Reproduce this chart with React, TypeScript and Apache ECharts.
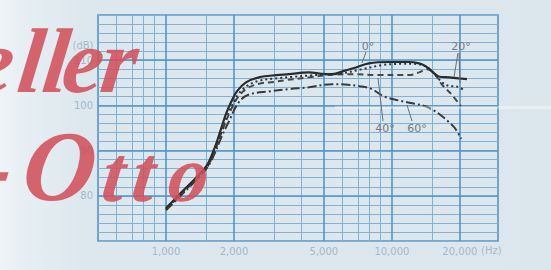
import React, { useEffect, useRef } from 'react';
import * as echarts from 'echarts';

// ---- axis ranges / ticks ----
const X_MIN_HZ = 500;
const X_MAX_HZ = 29500;
const Y_MIN = 70;
const Y_MAX = 120;

const xTickValues = [1000, 2000, 5000, 10000, 20000];
const xTickLabels = ['1,000', '2,000', '5,000', '10,000', '20,000'];
const xGridMajor = [1000, 2000, 5000, 10000, 20000];
const xGridMinor = [600, 700, 800, 900, 1500, 3000, 4000, 6000, 7000, 8000, 9000, 15000];
const yLabelValues = [80, 90, 100, 110];
const yGridMajor = [80, 90, 100, 110];

// ---- series (frequency in Hz, level in dB) ----
const freq0 = [1000, 1140, 1500, 1630, 1750, 1840, 1940, 2060, 2260, 2580, 3070, 3500, 4290, 4900, 5430, 6200, 6930, 7910, 9700, 11900, 13200, 14100, 15000, 16100, 17900, 21500];
const db0 = [77.3, 80.2, 86.4, 90.2, 94.7, 98.0, 100.7, 103.1, 105.1, 106.2, 106.7, 106.9, 107.3, 107.0, 106.9, 107.7, 108.4, 109.3, 109.6, 109.6, 109.3, 108.7, 107.6, 106.4, 106.2, 105.8];

const freq20 = [1000, 1140, 1500, 1640, 1760, 1860, 1960, 2100, 2300, 2600, 3100, 3600, 4300, 5000, 5830, 7400, 9000, 11000, 12500, 14000, 15000, 16600, 17900, 19300, 21000];
const db20 = [77.0, 80.0, 86.0, 89.8, 94.2, 97.5, 100.0, 102.6, 104.4, 105.5, 106.0, 106.3, 106.6, 106.8, 107.0, 108.0, 108.9, 109.2, 109.2, 108.7, 107.6, 105.2, 104.3, 104.2, 103.3];

const freq40 = [1000, 1140, 1500, 1640, 1760, 1860, 1960, 2060, 2260, 2580, 3000, 3400, 4290, 5430, 6930, 8500, 11900, 13200, 14300, 15300, 16600, 18400, 20200];
const db40 = [77.0, 79.9, 86.1, 89.8, 94.0, 97.0, 99.5, 101.5, 103.6, 104.8, 105.2, 105.6, 106.2, 106.8, 106.9, 106.7, 106.7, 107.3, 108.0, 107.3, 104.7, 102.4, 99.8];

const freq60 = [1000, 1140, 1500, 1640, 1760, 1900, 2100, 2330, 2860, 3500, 4290, 5430, 6200, 7300, 8160, 9200, 10500, 12500, 14100, 15300, 16100, 17900, 19000, 20300];
const db60 = [76.8, 79.6, 85.8, 89.3, 93.0, 96.5, 100.7, 102.4, 103.1, 103.6, 104.0, 104.7, 104.6, 104.2, 103.6, 102.0, 101.2, 100.4, 99.8, 98.9, 98.2, 96.3, 95.0, 92.6];

const seriesNames = ['0°', '20°', '40°', '60°'];

const lg = (f: number) => Math.log10(f);
const pts = (fs: number[], ds: number[]) => fs.map((f, i) => [lg(f), ds[i]]);

const GRID_MINOR = '#80b2d9';
const GRID_MAJOR = '#5295ca';
const LABEL = '#a2b8c9';
const INK = '#2b2b2b';
const RED = '#d2505a';

export default function App() {
  const ref = useRef<HTMLDivElement>(null);

  useEffect(() => {
    if (!ref.current) return;
    const chart = echarts.init(ref.current, null, { renderer: 'svg' });

    const vMinor = xGridMinor.map((f) => ({ xAxis: lg(f), lineStyle: { color: GRID_MINOR, width: 1, type: 'solid' } }));
    const vMajor = xGridMajor.map((f) => ({ xAxis: lg(f), lineStyle: { color: GRID_MAJOR, width: 1.6, type: 'solid' } }));
    const hMajor = yGridMajor.map((d) => ({ yAxis: d, lineStyle: { color: GRID_MAJOR, width: 1.6, type: 'solid' } }));

    const wm = (text: string, x: number, baseline: number, size: number) => ({
      type: 'text',
      z: 100,
      silent: true,
      x,
      y: baseline,
      skewX: -0.12,
      originX: 0,
      originY: 0,
      style: {
        text,
        x: 0,
        y: -size * 0.34,
        font: `italic bold ${size}px "Liberation Serif"`,
        fill: RED,
        opacity: 0.88,
        align: 'center',
        verticalAlign: 'middle',
      },
    });

    const note = (text: string, x: number, y: number) => ({
      type: 'text',
      z: 50,
      silent: true,
      style: {
        text, x, y,
        font: '11px "DejaVu Sans"',
        fill: '#737b84',
        align: 'center',
        verticalAlign: 'middle',
      },
    });
    const lead = (x1: number, y1: number, x2: number, y2: number) => ({
      type: 'line',
      z: 50,
      silent: true,
      shape: { x1, y1, x2, y2 },
      style: { stroke: '#6a7077', lineWidth: 1 },
    });

    const option: any = {
      animation: false,
      backgroundColor: 'transparent',
      grid: {
        left: 98, top: 15, width: 400, height: 226,
        show: true, borderColor: GRID_MAJOR, borderWidth: 1.6, backgroundColor: 'transparent',
      },
      xAxis: {
        type: 'value',
        min: lg(X_MIN_HZ),
        max: lg(X_MAX_HZ),
        axisLine: { show: false },
        axisTick: { show: false },
        splitLine: { show: false },
        axisLabel: {
          customValues: xTickValues.map(lg),
          formatter: (v: number) => {
            const i = xTickValues.indexOf(Math.round(Math.pow(10, v)));
            return i >= 0 ? xTickLabels[i] : '';
          },
          color: LABEL,
          fontFamily: 'DejaVu Sans',
          fontSize: 10,
          margin: 5,
        },
      },
      yAxis: {
        type: 'value',
        min: Y_MIN,
        max: Y_MAX,
        interval: 2,
        axisLine: { show: false },
        axisTick: { show: false },
        splitLine: { show: true, lineStyle: { color: GRID_MINOR, width: 1 } },
        axisLabel: {
          formatter: (v: number) => (yLabelValues.indexOf(v) >= 0 ? String(v) : ''),
          color: LABEL,
          fontFamily: 'DejaVu Sans',
          fontSize: 10,
          margin: 5,
        },
      },
      series: [
        {
          type: 'line',
          name: 'grid',
          data: [],
          z: 1,
          silent: true,
          markLine: {
            silent: true,
            symbol: ['none', 'none'],
            label: { show: false },
            lineStyle: { type: 'solid' },
            animation: false,
            data: [...vMinor, ...vMajor, ...hMajor],
          },
        },
        {
          type: 'line', name: seriesNames[3], data: pts(freq60, db60), smooth: 0.35, showSymbol: false, z: 5,
          lineStyle: { color: '#3a3a3a', width: 2, type: [9, 3, 2, 3] },
        },
        {
          type: 'line', name: seriesNames[2], data: pts(freq40, db40), smooth: 0.35, showSymbol: false, z: 6,
          lineStyle: { color: '#474747', width: 2, type: [6, 4] },
        },
        {
          type: 'line', name: seriesNames[1], data: pts(freq20, db20), smooth: 0.35, showSymbol: false, z: 7,
          lineStyle: { color: '#333333', width: 2, type: [2, 3] },
        },
        {
          type: 'line', name: seriesNames[0], data: pts(freq0, db0), smooth: 0.35, showSymbol: false, z: 8,
          lineStyle: { color: INK, width: 2.2 },
        },
      ],
      graphic: [
        {
          type: 'rect', z: 40, silent: true,
          shape: { x: 335, y: 106, width: 216, height: 3 },
          style: { fill: 'rgba(255,255,255,0.35)' },
        },
        {
          type: 'text', z: 20, silent: true,
          style: { text: '(dB)', x: 83, y: 45, font: '10px "DejaVu Sans"', fill: LABEL, align: 'center', verticalAlign: 'middle' },
        },
        {
          type: 'text', z: 20, silent: true,
          style: { text: '(Hz)', x: 481, y: 250, font: '10px "DejaVu Sans"', fill: LABEL, align: 'left', verticalAlign: 'middle' },
        },
        note('0°', 368, 46),
        lead(366, 52, 362, 63),
        note('20°', 461, 46),
        lead(458, 53, 454, 77),
        lead(459, 53, 460, 83),
        note('40°', 385, 128),
        lead(378, 78, 383, 121),
        note('60°', 417, 128),
        lead(407, 105, 412, 121),
        // watermark
        wm('e', -10, 92, 92),
        wm('l', 28, 92, 92),
        wm('l', 53, 92, 92),
        wm('e', 80, 92, 92),
        wm('r', 116, 92, 92),
        wm('-', -8, 201, 100),
        wm('O', 56, 201, 100),
        wm('t', 111, 201, 80),
        wm('t', 141, 201, 80),
        wm('o', 186, 201, 80),
      ],
    };

    chart.setOption(option);
    return () => chart.dispose();
  }, []);

  return (
    <div
      ref={ref}
      style={{
        position: 'fixed',
        left: 0,
        top: 0,
        width: 551,
        height: 270,
        background: 'linear-gradient(to right, #eef3f6 0px, #e4edf2 35px, #dde8ee 80px, #dce7ed 100%)',
      }}
    />
  );
}
